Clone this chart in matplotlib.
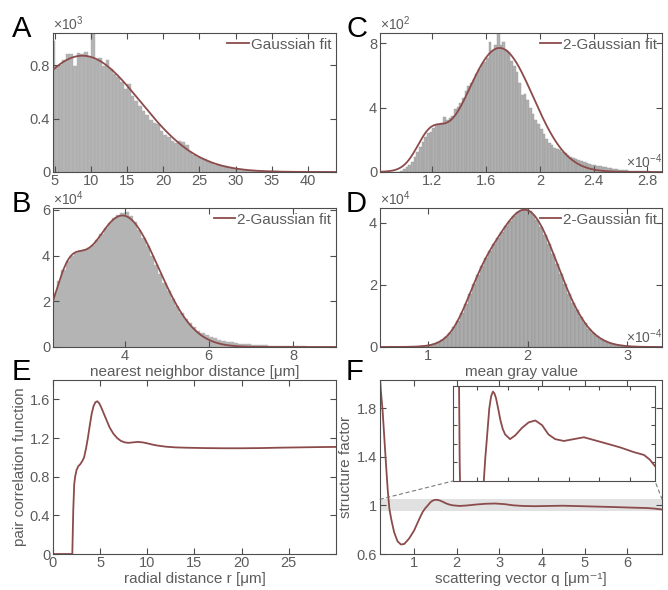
import numpy as np
import matplotlib
matplotlib.use('Agg')
import matplotlib.pyplot as plt
from matplotlib.ticker import FormatStrFormatter
from matplotlib.patches import ConnectionPatch

plt.rcParams['font.family'] = ['Liberation Sans', 'DejaVu Sans']
plt.rcParams['mathtext.fontset'] = 'custom'
plt.rcParams['mathtext.rm'] = 'Liberation Sans'
plt.rcParams['mathtext.it'] = 'Liberation Sans:italic'
plt.rcParams['mathtext.bf'] = 'Liberation Sans:bold'

fit_color = '#8c4b4b'
bar_color = '#b4b4b4'
spine_color = '#4d4d4d'
text_color = '#5c5c5c'
tick_size = 10.5
label_size = 11

# ---- A: nearest neighbour histogram (x10^3) ----
a_bin_start = 4.5
a_bin_width = 0.5
a_counts = [0.98, 0.79, 0.80, 0.84, 0.88, 0.88, 0.79, 0.89, 0.88, 0.90,
            0.86, 1.04, 0.84, 0.85, 0.79, 0.84, 0.77, 0.73, 0.71, 0.67,
            0.62, 0.66, 0.57, 0.53, 0.49, 0.46, 0.43, 0.39, 0.37, 0.36,
            0.31, 0.28, 0.26, 0.235, 0.22, 0.23, 0.225, 0.20, 0.15, 0.13,
            0.115, 0.105, 0.095, 0.085, 0.07, 0.055, 0.05, 0.045, 0.045, 0.04,
            0.03, 0.025, 0.02, 0.017, 0.013, 0.011, 0.009, 0.008, 0.007, 0.006,
            0.005, 0.004, 0.004, 0.003, 0.003, 0.002, 0.002, 0.002, 0.002, 0.001,
            0.001, 0.001, 0.001, 0.001, 0.001, 0.001, 0.001, 0.001, 0.001]
a_fit = [(0.87, 8.8, 8.0)]  # (amplitude, mean, sigma)

# ---- B: nearest neighbor distance (x10^4) ----
b_bin_start = 2.3
b_bin_width = 0.1
b_counts = [2.35, 2.9, 3.35, 3.75, 3.98, 4.1, 4.18, 4.22, 4.32, 4.48,
            4.68, 4.93, 5.2, 5.42, 5.62, 5.78, 5.88, 5.9, 5.74, 5.45,
            5.12, 4.78, 4.4, 4.0, 3.58, 3.2, 2.82, 2.45, 2.1, 1.78,
            1.5, 1.24, 1.03, 0.86, 0.72, 0.62, 0.53, 0.45, 0.38, 0.32,
            0.27, 0.23, 0.2, 0.17, 0.15, 0.13, 0.11, 0.095, 0.085, 0.075,
            0.065, 0.058, 0.05, 0.045, 0.04, 0.035, 0.03, 0.027, 0.024, 0.021,
            0.019, 0.017, 0.015, 0.013, 0.012, 0.011, 0.01]
b_fit = [(5.75, 3.95, 0.85), (2.0, 2.65, 0.33)]

# ---- C: mean gray value, first sample (x10^2 counts, x10^-4 value) ----
c_bin_start = 0.90
c_bin_width = 0.02
c_counts = [0, 0.01, 0.03, 0.08, 0.18, 0.3, 0.45, 0.65, 0.9, 1.25,
            1.55, 1.85, 2.2, 2.45, 2.5, 2.75, 2.9, 3.0, 3.05, 3.4,
            3.25, 3.35, 3.5, 3.9, 4.05, 4.3, 4.6, 5.0, 5.35, 5.5,
            5.75, 6.1, 6.4, 6.7, 6.8, 7.1, 8.05, 7.5, 7.9, 8.6,
            7.9, 8.1, 7.6, 7.45, 6.9, 6.6, 6.2, 5.5, 4.75, 4.85,
            4.5, 4.0, 3.6, 3.25, 2.95, 2.65, 2.35, 2.05, 1.8, 1.65,
            1.5, 1.42, 1.34, 1.22, 1.16, 1.06, 0.96, 0.88, 0.8, 0.72,
            0.66, 0.6, 0.55, 0.5, 0.46, 0.43, 0.39, 0.35, 0.31, 0.28,
            0.25, 0.22, 0.2, 0.17, 0.15, 0.13, 0.12, 0.1, 0.09, 0.08,
            0.07, 0.06, 0.05, 0.05, 0.04, 0.04, 0.03, 0.03, 0.02, 0.02]
c_fit = [(7.7, 1.70, 0.25), (1.85, 1.18, 0.10)]

# ---- D: mean gray value, second sample (x10^4 counts, x10^-4 value) ----
d_bin_start = 0.92
d_bin_width = 0.04
d_counts = [0.025, 0.04, 0.06, 0.094, 0.145, 0.216, 0.317, 0.454, 0.63, 0.85,
            1.11, 1.40, 1.71, 2.02, 2.32, 2.61, 2.86, 3.10, 3.31, 3.52,
            3.71, 3.90, 4.07, 4.22, 4.34, 4.41, 4.42, 4.38, 4.26, 4.10,
            3.88, 3.62, 3.32, 3.0, 2.67, 2.34, 2.02, 1.71, 1.43, 1.18,
            0.953, 0.76, 0.595, 0.461, 0.352, 0.263, 0.194, 0.141, 0.10, 0.071,
            0.049, 0.033, 0.022, 0.014, 0.009]
d_fit = [(4.4, 1.98, 0.32), (0.9, 1.52, 0.17)]

# ---- E: pair correlation function ----
e_r = [0, 2.05, 2.15, 2.25, 2.35, 2.5, 2.7, 2.9, 3.1, 3.3, 3.5, 3.7, 3.9, 4.1,
       4.3, 4.5, 4.7, 4.9, 5.1, 5.4, 5.7, 6.0, 6.4, 6.8, 7.2, 7.6, 8.0, 8.5,
       9.0, 9.5, 10.0, 10.5, 11, 12, 13, 14, 16, 18, 20, 22, 24, 26, 28, 30]
e_g = [0, 0, 0.45, 0.72, 0.8, 0.87, 0.91, 0.93, 0.96, 1.0, 1.09, 1.2, 1.33, 1.45,
       1.53, 1.57, 1.58, 1.56, 1.52, 1.45, 1.38, 1.31, 1.245, 1.2, 1.17, 1.155, 1.15, 1.155,
       1.16, 1.155, 1.145, 1.133, 1.123, 1.11, 1.103, 1.1, 1.096, 1.094, 1.094, 1.096, 1.1, 1.103,
       1.106, 1.108]

# ---- F: structure factor ----
f_q = [0.2, 0.22, 0.26, 0.3, 0.34, 0.38, 0.42, 0.47, 0.53, 0.61, 0.69, 0.77, 0.88,
       1.0, 1.12, 1.2, 1.26, 1.31, 1.39, 1.45, 1.51, 1.56, 1.61, 1.68, 1.75, 1.83,
       1.91, 2.07, 2.24, 2.46, 2.68, 2.9, 3.12, 3.33, 3.55, 3.83, 4.16, 4.49, 4.82,
       5.26, 5.69, 6.13, 6.46, 6.65, 6.82]
f_s = [2.05, 1.94, 1.78, 1.56, 1.34, 1.13, 0.97, 0.875, 0.78, 0.705, 0.678, 0.683, 0.726,
       0.793, 0.887, 0.945, 0.975, 0.995, 1.028, 1.041, 1.046, 1.044, 1.039, 1.028, 1.016, 1.006,
       1.0, 0.995, 0.999, 1.007, 1.013, 1.015, 1.010, 1.0, 0.995, 0.993, 0.995, 0.997, 0.994,
       0.990, 0.986, 0.981, 0.978, 0.973, 0.966]
band = (0.95, 1.05)


def gauss_sum(x, params):
    y = np.zeros_like(x)
    for amp, mu, sig in params:
        y = y + amp * np.exp(-(x - mu) ** 2 / (2 * sig ** 2))
    return y


def style(ax, labels=True):
    for s in ax.spines.values():
        s.set_color(spine_color)
        s.set_linewidth(0.8)
    ax.tick_params(direction='in', top=True, right=True, length=4, width=0.8,
                   color=spine_color, labelcolor=text_color, labelsize=tick_size)
    ax.tick_params(axis='x', pad=1.2)
    ax.tick_params(axis='y', pad=2.0)
    if labels:
        ax.xaxis.set_major_formatter(FormatStrFormatter('%g'))
        ax.yaxis.set_major_formatter(FormatStrFormatter('%g'))


def hist_panel(ax, start, width, counts, params, label, xlim, ylim, edge, ecolor, fc):
    counts = np.array(counts)
    centers = start + width * (np.arange(len(counts)) + 0.5)
    ax.bar(centers, counts, width=width, color=fc, edgecolor=ecolor, linewidth=edge, zorder=1)
    xs = np.linspace(xlim[0], xlim[1], 600)
    ax.plot(xs, gauss_sum(xs, params), color=fit_color, lw=1.3, label=label, zorder=3)
    ax.set_xlim(xlim)
    ax.set_ylim(ylim)
    style(ax)
    ax.legend(loc='upper right', frameon=False, fontsize=label_size, handlelength=1.4,
              handletextpad=0.15, borderaxespad=0.2, borderpad=0.1, labelcolor=text_color)


def exponent(ax, txt, x, y, ha, va):
    ax.text(x, y, txt, transform=ax.transAxes, ha=ha, va=va, fontsize=10,
            color=text_color)


fig = plt.figure(figsize=(6.68, 5.90), dpi=100)

axA = fig.add_axes([0.0793, 0.7085, 0.4237, 0.2356])
axC = fig.add_axes([0.5689, 0.7085, 0.4222, 0.2356])
axB = fig.add_axes([0.0793, 0.4119, 0.4237, 0.2356])
axD = fig.add_axes([0.5689, 0.4119, 0.4222, 0.2356])
axE = fig.add_axes([0.0793, 0.0610, 0.4237, 0.2949])
axF = fig.add_axes([0.5689, 0.0610, 0.4222, 0.2949])

# A
hist_panel(axA, a_bin_start, a_bin_width, a_counts, a_fit, 'Gaussian fit',
           (4.72, 43.9), (0, 1.04), 0.3, '#a9a9a9', bar_color)
axA.set_xticks([5, 10, 15, 20, 25, 30, 35, 40])
axA.set_yticks([0, 0.4, 0.8])
exponent(axA, r'$\mathregular{\times10^{3}}$', 0.0, 1.0, 'left', 'bottom')

# B
hist_panel(axB, b_bin_start, b_bin_width, b_counts, b_fit, '2-Gaussian fit',
           (2.3, 9.02), (0, 6.08), 0.3, bar_color, bar_color)
axB.set_xticks([4, 6, 8])
axB.set_yticks([0, 2, 4, 6])
exponent(axB, r'$\mathregular{\times10^{4}}$', 0.0, 1.0, 'left', 'bottom')
axB.set_xlabel('nearest neighbor distance [μm]', fontsize=label_size, color=text_color)
axB.xaxis.set_label_coords(0.5, -0.128)

# C
hist_panel(axC, c_bin_start, c_bin_width, c_counts, c_fit, '2-Gaussian fit',
           (0.81, 2.91), (0, 8.63), 0.3, '#999999', '#b0b0b0')
axC.set_xticks([1.2, 1.6, 2.0, 2.4, 2.8])
axC.set_yticks([0, 4, 8])
exponent(axC, r'$\mathregular{\times10^{2}}$', 0.0, 1.0, 'left', 'bottom')
exponent(axC, r'$\mathregular{\times10^{-4}}$', 1.0, 0.01, 'right', 'bottom')

# D
hist_panel(axD, d_bin_start, d_bin_width, d_counts, d_fit, '2-Gaussian fit',
           (0.52, 3.35), (0, 4.48), 0.3, '#8f8f8f', '#ababab')
axD.set_xticks([1, 2, 3])
axD.set_yticks([0, 2, 4])
exponent(axD, r'$\mathregular{\times10^{4}}$', 0.0, 1.0, 'left', 'bottom')
exponent(axD, r'$\mathregular{\times10^{-4}}$', 1.0, 0.01, 'right', 'bottom')
axD.set_xlabel('mean gray value', fontsize=label_size, color=text_color)
axD.xaxis.set_label_coords(0.5, -0.128)

# E
axE.plot(e_r, e_g, color=fit_color, lw=1.3)
axE.set_xlim(0, 30)
axE.set_ylim(0, 1.8)
style(axE)
axE.set_xticks([0, 5, 10, 15, 20, 25])
axE.set_yticks([0, 0.4, 0.8, 1.2, 1.6])
axE.set_xlabel('radial distance r [μm]', fontsize=label_size, color=text_color)
axE.set_ylabel('pair correlation function', fontsize=label_size, color=text_color)
axE.xaxis.set_label_coords(0.5, -0.103)
axE.yaxis.set_label_coords(-0.092, 0.5)

# F
axF.axhspan(band[0], band[1], color='#e1e1e1', lw=0, zorder=0)
axF.plot(f_q, f_s, color=fit_color, lw=1.3, zorder=2)
axF.set_xlim(0.2, 6.82)
axF.set_ylim(0.6, 2.03)
style(axF)
axF.set_xticks([1, 2, 3, 4, 5, 6])
axF.set_yticks([0.6, 1.0, 1.4, 1.8])
axF.set_xlabel('scattering vector q [μm⁻¹]', fontsize=label_size, color=text_color)
axF.set_ylabel('structure factor', fontsize=label_size, color=text_color)
axF.xaxis.set_label_coords(0.5, -0.103)
axF.yaxis.set_label_coords(-0.096, 0.5)

# inset of F
axI = fig.add_axes([0.6781, 0.1847, 0.3024, 0.161])
axI.plot(f_q, f_s, color=fit_color, lw=1.3)
axI.set_xlim(0.2, 6.82)
axI.set_ylim(0.95, 1.052)
axI.set_xticks([1, 2, 3, 4, 5, 6])
axI.set_yticks([0.97, 0.99, 1.01, 1.03])
style(axI, labels=False)
axI.tick_params(labelbottom=False, labelleft=False, length=3)

for xa, xb in [((0.2, band[1]), (0, 0)), ((6.82, band[1]), (1, 0))]:
    con = ConnectionPatch(xyA=xa, coordsA=axF.transData, xyB=xb, coordsB=axI.transAxes,
                          linestyle=(0, (3, 3)), color='#7a7a7a', lw=0.8)
    fig.add_artist(con)

# panel letters
for letter, (px, py) in {'A': (12, 15), 'C': (346, 15), 'B': (12, 190),
                         'D': (346, 190), 'E': (12, 358), 'F': (346, 358)}.items():
    fig.text(px / 668, 1 - py / 590, letter, fontsize=21, ha='left', va='top', color='black')

fig.savefig('out.png', dpi=100)
